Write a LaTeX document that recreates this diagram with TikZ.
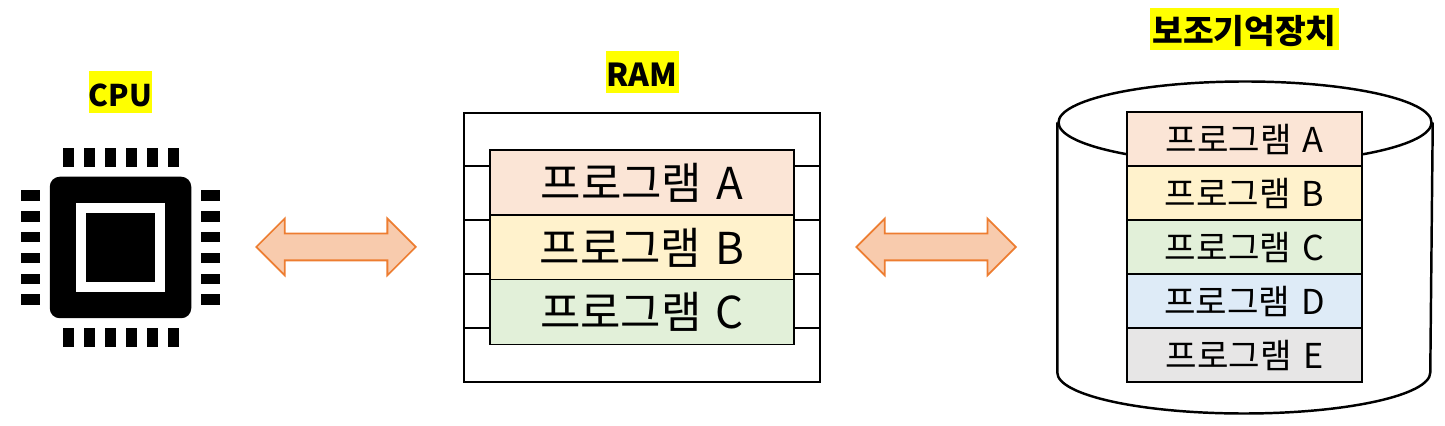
\documentclass[tikz,border=0pt]{standalone}
\usepackage{fontspec}
\setmainfont{Noto Sans CJK KR}
\usetikzlibrary{shapes.geometric, shapes.arrows}
\definecolor{Mark_Yellow}{HTML}{FFFF00}
\definecolor{Prog_A}{HTML}{FBE5D6}
\definecolor{Prog_B}{HTML}{FFF2CC}
\definecolor{Prog_C}{HTML}{E2F0D9}
\definecolor{Prog_D}{HTML}{DEEBF7}
\definecolor{Prog_E}{HTML}{E7E6E6}
\definecolor{Arrow_Fill}{HTML}{F8CBAD}
\definecolor{Arrow_Line}{HTML}{ED7D31}
\newcommand{\progname}[1]{프로그램\hspace{0.1em} #1}

\begin{document}
\begin{tikzpicture}[
    title/.style={fill=Mark_Yellow, inner sep=0pt, minimum height=0.84cm, text height=0.68cm, text depth=0.1cm, font=\fontsize{#1}{22}\selectfont\bfseries},
    rambox/.style={draw=black, line width=1.1pt, minimum width=6.08cm, minimum height=1.3cm, inner sep=0pt, font=\fontsize{25}{30}\selectfont},
    diskbox/.style={draw=black, line width=1.1pt, minimum width=4.69cm, minimum height=1.08cm, inner sep=0pt, font=\fontsize{19.5}{24}\selectfont},
    swap/.style={double arrow, draw=Arrow_Line, fill=Arrow_Fill, line width=1pt, minimum height=3.19cm, minimum width=1.12cm, double arrow head extend=0.3cm, inner sep=0.25cm},
    cpuleg/.style={fill=black, inner sep=0pt, minimum width=#1}
]
\useasboundingbox (0, 0) rectangle (28.9, 8.52);

% CPU
\node[title=17, minimum width=1.26cm] (cputitle) at (2.41, 6.67) {CPU};
\node[fill=black, rounded corners=0.2cm, minimum size=2.83cm, inner sep=0pt] (cpubody) at (2.41, 3.57) {};
\node[fill=white, minimum size=1.78cm, inner sep=0pt] (cpuring) at (2.41, 3.57) {};
\node[fill=black, minimum size=1.37cm, inner sep=0pt] (cpucore) at (2.41, 3.57) {};
\foreach \i in {0,...,5} {
    \node[cpuleg=0.213cm, minimum height=0.37cm] (legtop\i) at (1.366+0.42*\i, 5.37) {};
    \node[cpuleg=0.213cm, minimum height=0.37cm] (legbot\i) at (1.366+0.42*\i, 1.77) {};
    \node[cpuleg=0.37cm, minimum height=0.213cm] (legleft\i) at (0.607, 4.614-0.418*\i) {};
    \node[cpuleg=0.37cm, minimum height=0.213cm] (legright\i) at (4.21, 4.614-0.418*\i) {};
}

% Arrows
\node[swap] (cpuram) at (6.72, 3.58) {};
\node[swap] (ramdisk) at (18.72, 3.58) {};

% RAM
\node[title=18, minimum width=1.46cm] (ramtitle) at (12.84, 7.07) {RAM};
\node[draw=black, line width=1.1pt, minimum width=7.12cm, minimum height=5.38cm] (ramframe) at (12.84, 3.57) {};
\foreach \y in {5.2, 4.12, 3.04, 1.96} {
    \draw[black, line width=1.1pt] (ramframe.west |- 0, \y) -- (ramframe.east |- 0, \y);
}
\node[rambox, fill=Prog_A] (rama) at (12.84, 4.87) {\progname{A}};
\node[rambox, fill=Prog_B] (ramb) at (12.84, 3.57) {\progname{B}};
\node[rambox, fill=Prog_C] (ramc) at (12.84, 2.28) {\progname{C}};

% Storage
\node[title=19, minimum width=3.78cm] (disktitle) at (24.89, 7.94) {보조기억장치};
\node[draw, line width=1.4pt, ellipse, minimum width=7.46cm, minimum height=1.64cm, inner sep=0pt] (disktop) at (24.9, 6.07) {};
\draw[line width=1.4pt] (disktop.west) -- ++(0, -5) arc[start angle=180, end angle=360, x radius=3.73, y radius=0.82] -- (disktop.east);
\node[diskbox, fill=Prog_A] (diska) at (24.89, 5.74) {\progname{A}};
\node[diskbox, fill=Prog_B] (diskb) at (24.89, 4.66) {\progname{B}};
\node[diskbox, fill=Prog_C] (diskc) at (24.89, 3.58) {\progname{C}};
\node[diskbox, fill=Prog_D] (diskd) at (24.89, 2.5) {\progname{D}};
\node[diskbox, fill=Prog_E] (diske) at (24.89, 1.42) {\progname{E}};

\end{tikzpicture}
\end{document}
